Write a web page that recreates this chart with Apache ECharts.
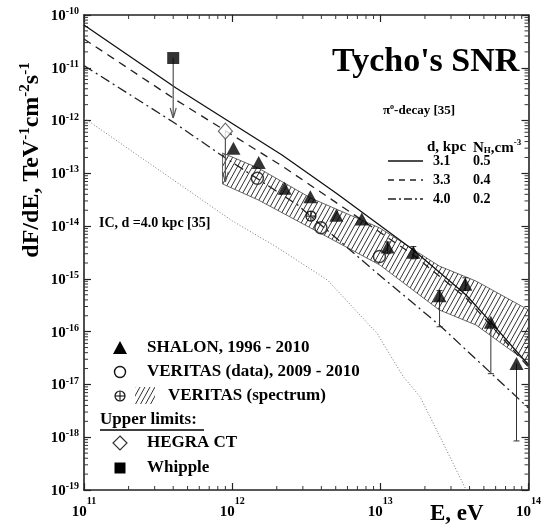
<!DOCTYPE html>
<html>
<head>
<meta charset="utf-8">
<script src="https://cdn.jsdelivr.net/npm/echarts@6/dist/echarts.min.js"></script>
<style>
  html, body { margin: 0; padding: 0; background: #fff; }
  #chart { width: 544px; height: 529px; }
</style>
</head>
<body>
<div id="chart"></div>
<script>
// Energies in eV, differential fluxes in TeV^-1 cm^-2 s^-1

// SHALON, 1996 - 2010
const shalonE  = [1.02e12, 1.51e12, 2.26e12, 3.37e12, 5.05e12, 7.5e12, 1.12e13, 1.67e13, 2.51e13, 3.75e13, 5.57e13, 8.3e13];
const shalonF  = [3.0e-13, 1.6e-13, 5.2e-14, 3.6e-14, 1.6e-14, 1.36e-14, 4.0e-15, 3.2e-15, 4.8e-16, 7.9e-16, 1.5e-16, 2.5e-17];
const shalonLo = [null, null, null, null, null, null, 3.0e-15, 2.4e-15, 1.24e-16, 6.0e-16, 1.6e-17, 8.5e-19];
const shalonHi = [null, null, null, null, null, null, 5.0e-15, 4.1e-15, 6.0e-16, 1.05e-15, null, null];

// VERITAS (data), 2009 - 2010
const veritasE = [1.48e12, 3.97e12, 9.86e12];
const veritasF = [8.05e-14, 9.3e-15, 2.65e-15];

// VERITAS (spectrum): pivot point and band
const veritasPivotE = [3.4e12];
const veritasPivotF = [1.55e-14];
const bandE  = [8.61e11, 1.50e12, 3.39e12, 9.93e12, 2.50e13, 4.42e13, 1.0e14];
const bandHi = [2.43e-13, 1.26e-13, 3.41e-14, 9.2e-15, 1.75e-15, 9.1e-16, 2.58e-16];
const bandLo = [6.3e-14, 3.13e-14, 9.2e-15, 1.83e-15, 2.58e-16, 1.34e-16, 2.55e-17];

// Upper limits
const hegraE = [9.0e11];
const hegraF = [6.3e-13];
const hegraTo = [6.9e-14];
const whippleE = [4.0e11];
const whippleF = [1.53e-11];
const whippleTo = [1.12e-12];

// pi0-decay models [35]
const pi31E = [1e11, 4.18e11, 2.17e12, 5.13e12, 1.67e13, 3.79e13, 5.57e13, 1e14];
const pi31F = [6.46e-11, 4.14e-12, 2.22e-13, 4.06e-14, 3.53e-15, 4.95e-16, 1.52e-16, 2.34e-17];
const pi33E = [1e11, 4.18e11, 2.17e12, 5.13e12, 1.67e13, 3.79e13, 1e14];
const pi33F = [3.51e-11, 2.45e-12, 1.38e-13, 2.69e-14, 2.84e-15, 4.35e-16, 2.14e-17];
const pi40E = [1e11, 3.99e11, 8.61e11, 2.77e12, 9.49e12, 2.50e13, 5.57e13, 1e14];
const pi40F = [1.10e-11, 9.4e-13, 2.13e-13, 2.51e-14, 1.29e-15, 1.34e-16, 1.65e-17, 3.58e-18];

// IC, d = 4.0 kpc [35]
const icE = [1e11, 3.16e11, 1e12, 2.0e12, 4.4e12, 9.5e12, 1.43e13, 1.85e13, 2.65e13, 3.6e13, 3.8e13];
const icF = [1.12e-12, 1.19e-13, 1.26e-14, 4.0e-15, 9.5e-16, 9.3e-17, 1.4e-17, 5.9e-18, 7.8e-19, 1.35e-19, 1e-19];

// Axis ranges
const xRange = [1e11, 1e14];
const yRange = [1e-19, 1e-10];

const SERIF = '"Liberation Serif", "DejaVu Serif", serif';
const zip = (a, b) => a.map((v, i) => [v, b[i]]);

function hatchCanvas(w, h) {
  const c = document.createElement('canvas');
  c.width = w; c.height = h;
  const g = c.getContext('2d');
  g.strokeStyle = '#1a1a1a';
  g.lineWidth = 0.9;
  g.beginPath();
  for (const dx of [-w, 0, w]) { g.moveTo(dx, h); g.lineTo(dx + w, 0); }
  g.stroke();
  return c;
}
const hatch = { image: hatchCanvas(5, 9), repeat: 'repeat' };

// power-of-ten tick labels: "10" with a raised exponent
function expLabel(baseLineHeight) {
  return {
    formatter: v => '{b|10}{s|' + Math.round(Math.log10(v)) + '}',
    rich: {
      b: { fontFamily: SERIF, fontWeight: 'bold', fontSize: 15, color: '#000', lineHeight: baseLineHeight, verticalAlign: 'bottom' },
      s: { fontFamily: SERIF, fontWeight: 'bold', fontSize: 10, color: '#000', lineHeight: 10, verticalAlign: 'top' }
    }
  };
}

function seg(x1, y1, x2, y2, w, color) {
  return { type: 'line', shape: { x1, y1, x2, y2 }, style: { stroke: color || '#000', lineWidth: w || 1 } };
}

const chart = echarts.init(document.getElementById('chart'), null, { renderer: 'canvas' });

const axisCommon = {
  type: 'log', logBase: 10,
  axisLine: { lineStyle: { color: '#222', width: 1.6 } },
  axisTick: { inside: true, length: 7, lineStyle: { color: '#222', width: 1.2 } },
  splitLine: { show: false },
  minorTick: { show: false }
};

const lineSeries = (E, F, style) => ({
  type: 'line', data: zip(E, F), symbol: 'none', smooth: false, z: 3, lineStyle: style
});

const option = {
  backgroundColor: '#fff',
  animation: false,
  grid: { left: 84, top: 15, width: 449, height: 475, containLabel: false },
  xAxis: [
    Object.assign({}, axisCommon, {
      min: xRange[0], max: xRange[1], position: 'bottom',
      axisLabel: Object.assign({ margin: 6, showMinLabel: true, showMaxLabel: true }, expLabel(24))
    }),
    Object.assign({}, axisCommon, {
      min: xRange[0], max: xRange[1], position: 'top', axisLabel: { show: false }
    })
  ],
  yAxis: [
    Object.assign({}, axisCommon, {
      min: yRange[0], max: yRange[1], position: 'left',
      axisLabel: Object.assign({ margin: 5, showMinLabel: true, showMaxLabel: true }, expLabel(17))
    }),
    Object.assign({}, axisCommon, {
      min: yRange[0], max: yRange[1], position: 'right', axisLabel: { show: false }
    })
  ],
  series: [
    // minor ticks at 2..9 of each decade, on all four sides
    {
      type: 'custom', silent: true, z: 1,
      data: [[1e12, 1e-15]],
      renderItem: (params, api) => {
        const ch = [];
        const lb = api.coord([xRange[0], yRange[0]]);
        const rt = api.coord([xRange[1], yRange[1]]);
        for (let d = 11; d < 14; d++) for (let k = 2; k <= 9; k++) {
          const px = api.coord([k * Math.pow(10, d), yRange[0]])[0];
          ch.push(seg(px, lb[1], px, lb[1] - 4, 1, '#333'));
          ch.push(seg(px, rt[1], px, rt[1] + 4, 1, '#333'));
        }
        for (let d = -19; d < -10; d++) for (let k = 2; k <= 9; k++) {
          const py = api.coord([xRange[0], k * Math.pow(10, d)])[1];
          ch.push(seg(lb[0], py, lb[0] + 4, py, 1, '#333'));
          ch.push(seg(rt[0], py, rt[0] - 4, py, 1, '#333'));
        }
        return { type: 'group', children: ch };
      }
    },
    // VERITAS spectrum band
    {
      type: 'custom', silent: true, z: 2,
      data: [[bandE[0], bandHi[0]]],
      renderItem: (params, api) => {
        const pts = [];
        bandE.forEach((e, i) => pts.push(api.coord([e, bandHi[i]])));
        for (let i = bandE.length - 1; i >= 0; i--) pts.push(api.coord([bandE[i], bandLo[i]]));
        return { type: 'polygon', shape: { points: pts }, style: { fill: hatch, stroke: '#444', lineWidth: 0.8 } };
      }
    },
    // IC model
    lineSeries(icE, icF, { color: '#777', width: 1, type: [1, 2] }),
    // pi0 models
    lineSeries(pi31E, pi31F, { color: '#111', width: 1.3 }),
    lineSeries(pi33E, pi33F, { color: '#222', width: 1.3, type: [8, 6] }),
    lineSeries(pi40E, pi40F, { color: '#222', width: 1.3, type: [10, 4, 2, 4] }),
    // SHALON error bars
    {
      type: 'custom', silent: true, z: 4,
      data: zip(shalonE, shalonF),
      renderItem: (params, api) => {
        const i = params.dataIndex;
        const ch = [];
        const c = api.coord([shalonE[i], shalonF[i]]);
        if (shalonLo[i] != null) {
          const p = api.coord([shalonE[i], shalonLo[i]]);
          ch.push(seg(c[0], c[1], p[0], p[1], 1, '#333'));
          ch.push(seg(p[0] - 3, p[1], p[0] + 3, p[1], 1, '#333'));
        }
        if (shalonHi[i] != null) {
          const p = api.coord([shalonE[i], shalonHi[i]]);
          ch.push(seg(c[0], c[1], p[0], p[1], 1, '#333'));
          ch.push(seg(p[0] - 3, p[1], p[0] + 3, p[1], 1, '#333'));
        }
        return { type: 'group', children: ch };
      }
    },
    // upper-limit arrows
    {
      type: 'custom', silent: true, z: 4,
      data: zip(whippleE.concat(hegraE), whippleF.concat(hegraF)),
      renderItem: (params, api) => {
        const i = params.dataIndex;
        const E = whippleE.concat(hegraE)[i];
        const F = whippleF.concat(hegraF)[i];
        const T = whippleTo.concat(hegraTo)[i];
        const a = api.coord([E, F]);
        const b = api.coord([E, T]);
        return {
          type: 'group', children: [
            seg(a[0], a[1], b[0], b[1], 1.2, '#555'),
            seg(b[0], b[1], b[0] - 3, b[1] - 10, 1.2, '#555'),
            seg(b[0], b[1], b[0] + 3, b[1] - 10, 1.2, '#555')
          ]
        };
      }
    },
    // SHALON
    {
      type: 'scatter', data: zip(shalonE, shalonF), symbol: 'triangle', symbolSize: [14, 13], z: 6,
      itemStyle: { color: '#000' }
    },
    // VERITAS data
    {
      type: 'scatter', data: zip(veritasE, veritasF), symbol: 'circle', symbolSize: 12, z: 6,
      itemStyle: { color: 'rgba(255,255,255,0)', borderColor: '#111', borderWidth: 1.5 }
    },
    // VERITAS spectrum pivot point (crossed circle)
    {
      type: 'custom', silent: true, z: 6,
      data: zip(veritasPivotE, veritasPivotF),
      renderItem: (params, api) => {
        const c = api.coord([veritasPivotE[params.dataIndex], veritasPivotF[params.dataIndex]]);
        const r = 5;
        return {
          type: 'group', children: [
            { type: 'circle', shape: { cx: c[0], cy: c[1], r }, style: { fill: 'none', stroke: '#111', lineWidth: 1.2 } },
            seg(c[0] - r, c[1], c[0] + r, c[1], 1.1, '#111'),
            seg(c[0], c[1] - r, c[0], c[1] + r, 1.1, '#111')
          ]
        };
      }
    },
    // HEGRA CT
    {
      type: 'scatter', data: zip(hegraE, hegraF), symbol: 'diamond', symbolSize: [14, 16], z: 6,
      itemStyle: { color: '#fff', borderColor: '#444', borderWidth: 1.2 }
    },
    // Whipple
    {
      type: 'scatter', data: zip(whippleE, whippleF), symbol: 'rect', symbolSize: 12, z: 6,
      itemStyle: { color: '#000' }
    }
  ],
  graphic: { elements: [] }
};

const G = option.graphic.elements;
function txt(x, y, text, size, extra) {
  G.push(Object.assign({
    type: 'text', x, y, z: 100,
    style: Object.assign({
      text, fill: '#000', fontFamily: SERIF, fontWeight: 'bold', fontSize: size,
      textAlign: 'left', align: 'left', textVerticalAlign: 'middle', verticalAlign: 'middle'
    }, extra || {})
  }));
}
function richTxt(x, y, text, size, rotation, align) {
  G.push({
    type: 'text', x, y, rotation: rotation || 0, z: 100,
    style: {
      text, fill: '#000', fontFamily: SERIF, fontWeight: 'bold', fontSize: size,
      textAlign: align || 'left', align: align || 'left', textVerticalAlign: 'middle', verticalAlign: 'middle',
      rich: {
        n: { fontFamily: SERIF, fontWeight: 'bold', fontSize: size, lineHeight: Math.round(size * 1.1), verticalAlign: 'bottom' },
        s: { fontFamily: SERIF, fontWeight: 'bold', fontSize: Math.round(size * 0.62), lineHeight: Math.round(size * 0.6), verticalAlign: 'top' },
        u: { fontFamily: SERIF, fontWeight: 'bold', fontSize: Math.round(size * 0.62), lineHeight: Math.round(size * 0.6), verticalAlign: 'bottom' }
      }
    }
  });
}

// title
txt(332, 62, "Tycho's SNR", 34);

// pi0-decay model key
richTxt(383, 110, '{n|π}{s|o}{n|-decay [35]}', 13);
txt(427, 147, 'd, kpc', 15);
richTxt(473, 147, '{n|N}{u|H}{n|,cm}{s|-3}', 15);
G.push({ type: 'line', z: 100, shape: { x1: 388, y1: 161, x2: 423, y2: 161 }, style: { stroke: '#111', lineWidth: 1.3 } });
G.push({ type: 'line', z: 100, shape: { x1: 388, y1: 180, x2: 423, y2: 180 }, style: { stroke: '#222', lineWidth: 1.3, lineDash: [6, 5] } });
G.push({ type: 'line', z: 100, shape: { x1: 388, y1: 199, x2: 423, y2: 199 }, style: { stroke: '#222', lineWidth: 1.3, lineDash: [8, 3, 2, 3] } });
txt(433, 161, '3.1', 14); txt(473, 161, '0.5', 14);
txt(433, 180, '3.3', 14); txt(473, 180, '0.4', 14);
txt(433, 199, '4.0', 14); txt(473, 199, '0.2', 14);

// IC label
txt(99, 223, 'IC, d =4.0 kpc [35]', 14);

// data key
G.push({ type: 'polygon', z: 100, shape: { points: [[120, 341], [127, 354], [113, 354]] }, style: { fill: '#000' } });
txt(147, 348, 'SHALON, 1996 - 2010', 17);
G.push({ type: 'circle', z: 100, shape: { cx: 120, cy: 372, r: 5.5 }, style: { fill: 'none', stroke: '#111', lineWidth: 1.4 } });
txt(147, 372, 'VERITAS (data), 2009 - 2010', 17);
G.push({ type: 'circle', z: 100, shape: { cx: 120, cy: 396, r: 5 }, style: { fill: 'none', stroke: '#111', lineWidth: 1.2 } });
G.push({ type: 'line', z: 100, shape: { x1: 115, y1: 396, x2: 125, y2: 396 }, style: { stroke: '#111', lineWidth: 1.1 } });
G.push({ type: 'line', z: 100, shape: { x1: 120, y1: 391, x2: 120, y2: 401 }, style: { stroke: '#111', lineWidth: 1.1 } });
G.push({ type: 'rect', z: 100, shape: { x: 135, y: 387, width: 20, height: 17 }, style: { fill: hatch } });
txt(168, 396, 'VERITAS (spectrum)', 17);
txt(100, 420, 'Upper limits:', 17);
G.push({ type: 'line', z: 100, shape: { x1: 100, y1: 430, x2: 204, y2: 430 }, style: { stroke: '#000', lineWidth: 1.3 } });
G.push({ type: 'polygon', z: 100, shape: { points: [[120, 436], [127, 443], [120, 450], [113, 443]] }, style: { fill: '#fff', stroke: '#333', lineWidth: 1.2 } });
txt(147, 443, 'HEGRA CT', 17);
G.push({ type: 'rect', z: 100, shape: { x: 114.5, y: 462.5, width: 11, height: 11 }, style: { fill: '#000' } });
txt(147, 468, 'Whipple', 17);

// axis titles
richTxt(31, 160, '{n|dF/dE, TeV}{s|-1}{n|cm}{s|-2}{n|s}{s|-1}', 24, Math.PI / 2, 'center');
txt(430, 514, 'E, eV', 23);

chart.setOption(option);
</script>
</body>
</html>
